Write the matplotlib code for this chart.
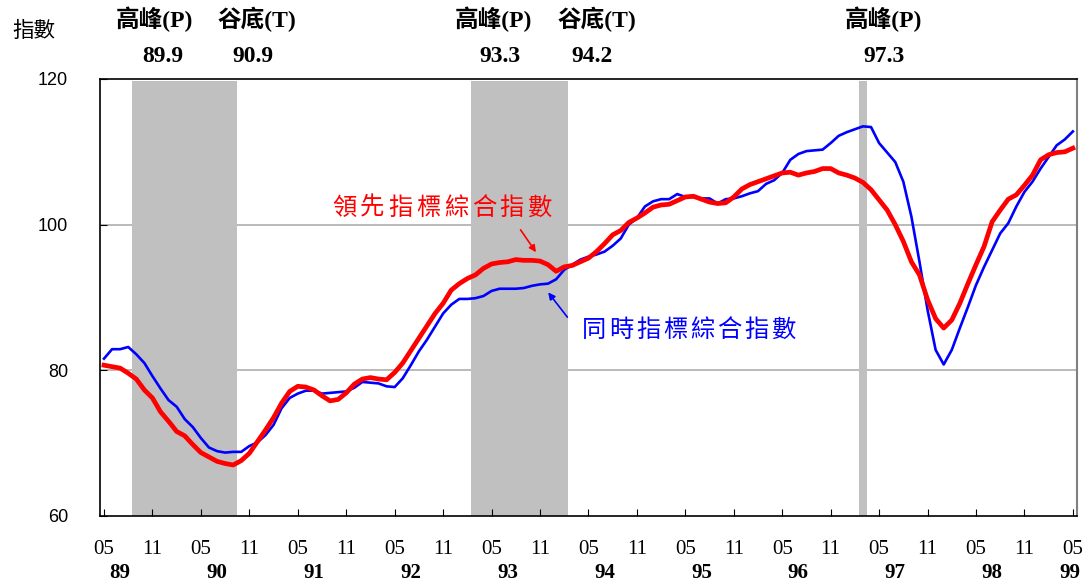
import matplotlib
matplotlib.use("Agg")
import matplotlib.pyplot as plt
import matplotlib.transforms as mtransforms

# 89/05 ~ 99/05, monthly
leading = [80.7, 80.5, 80.3, 79.6, 78.8, 77.3, 76.2, 74.3, 73.0, 71.6, 71.0, 69.8,
           68.7, 68.1, 67.5, 67.2, 67.0, 67.6, 68.6, 70.2, 71.8, 73.5, 75.5, 77.1,
           77.8, 77.7, 77.3, 76.5, 75.8, 76.0, 76.9, 78.1, 78.8, 79.0, 78.8, 78.7,
           79.7, 81.0, 82.7, 84.4, 86.1, 87.8, 89.2, 91.0, 91.9, 92.6, 93.1, 94.0,
           94.6, 94.8, 94.9, 95.2, 95.1, 95.1, 95.0, 94.5, 93.6, 94.2, 94.4, 94.9,
           95.4, 96.3, 97.4, 98.6, 99.2, 100.3, 100.9, 101.6, 102.4, 102.7, 102.8, 103.3,
           103.8, 103.9, 103.5, 103.1, 102.9, 103.0, 103.8, 104.9, 105.5, 105.9, 106.3, 106.7,
           107.1, 107.2, 106.8, 107.1, 107.3, 107.7, 107.7, 107.1, 106.8, 106.4, 105.8, 104.8,
           103.4, 102.0, 100.0, 97.7, 94.9, 93.1, 89.7, 87.1, 85.8, 86.9, 89.2, 91.9,
           94.5, 97.0, 100.4, 102.0, 103.5, 104.1, 105.4, 106.8, 108.9, 109.6, 109.9, 110.0,
           110.5]
coincident = [81.6, 82.9, 82.9, 83.2, 82.2, 81.0, 79.2, 77.5, 75.9, 75.0, 73.3, 72.2,
              70.7, 69.4, 68.9, 68.7, 68.8, 68.8, 69.6, 70.1, 71.1, 72.5, 74.8, 76.2,
              76.8, 77.2, 77.2, 76.8, 76.9, 77.0, 77.1, 77.6, 78.4, 78.3, 78.2, 77.8,
              77.7, 78.9, 80.7, 82.6, 84.2, 86.0, 87.8, 89.0, 89.8, 89.8, 89.9, 90.2,
              90.9, 91.2, 91.2, 91.2, 91.3, 91.6, 91.8, 91.9, 92.5, 93.8, 94.5, 95.2,
              95.6, 95.9, 96.3, 97.1, 98.1, 100.0, 100.9, 102.5, 103.2, 103.5, 103.5, 104.2,
              103.8, 103.8, 103.6, 103.6, 102.9, 103.5, 103.6, 103.9, 104.3, 104.6, 105.6, 106.1,
              107.1, 108.9, 109.7, 110.1, 110.2, 110.3, 111.2, 112.2, 112.7, 113.1, 113.5, 113.4,
              111.2, 109.9, 108.6, 105.9, 101.1, 94.9, 88.3, 82.8, 80.8, 82.8, 85.8, 88.7,
              91.7, 94.2, 96.5, 98.8, 100.2, 102.5, 104.5, 105.9, 107.7, 109.3, 110.9, 111.7,
              112.8]
months = list(range(len(leading)))
month_labels = ["05", "11"] * 10 + ["05"]
years = ["89", "90", "91", "92", "93", "94", "95", "96", "97", "98", "99"]

# recession periods (month index of peak, trough)
recessions = [(4, 16), (46, 57), (94, 94)]
turn_labels = [("高峰(P)", "89.9", 6.3, 7.3), ("谷底(T)", "90.9", 19.0, 18.5),
               ("高峰(P)", "93.3", 48.2, 49.0), ("谷底(T)", "94.2", 61.0, 60.5),
               ("高峰(P)", "97.3", 96.5, 96.6)]

cjk = "Noto Sans CJK TC"
serif_cjk = ["Liberation Serif", cjk]

fig = plt.figure(figsize=(10.9, 5.83), dpi=100)
ax = fig.add_axes([0.0917, 0.115, 0.8963, 0.7495])

for a, b in recessions:
    ax.axvspan(a - 0.5, b + 0.5, ymax=0.995, color="#C0C0C0", lw=0, zorder=1)
for g in [80, 100]:
    ax.axhline(g, color="#B4B4B4", lw=1.3, zorder=0.5)

ax.plot(months, coincident, color="#0000FF", lw=1.9, zorder=3)
ax.plot(months, leading, color="#FF0000", lw=3.4, zorder=4)

ax.set_xlim(-0.5, 120.5)
ax.set_ylim(60, 120)
ax.set_yticks([60, 80, 100, 120])
ax.set_yticklabels(["60", "80", "100", "120"], family="Liberation Sans", fontsize=13)
ax.set_xticks(months[::6])
ax.set_xticklabels(month_labels, family="Liberation Serif", fontsize=15)
ax.tick_params(axis="x", direction="in", length=5, pad=17)
ax.tick_params(axis="y", direction="in", length=5, pad=23)
for s in ["left", "bottom", "top"]:
    ax.spines[s].set_color("black")
    ax.spines[s].set_linewidth(1.2)
ax.spines["right"].set_color("#808080")
ax.spines["right"].set_linewidth(1.5)

trans = mtransforms.blended_transform_factory(ax.transData, fig.transFigure)
for k, y in enumerate(years):
    ax.text(min(2 + 12 * k, 119.6), 0.017, y, transform=trans, ha="center", va="center",
            family="Liberation Serif", weight="bold", fontsize=15)

for name, date, xn, xd in turn_labels:
    ax.text(xn, 0.967, name, transform=trans, ha="center", va="center",
            family=serif_cjk, weight="bold", fontsize=17)
    ax.text(xd, 0.903, date, transform=trans, ha="center", va="center",
            family="Liberation Serif", weight="bold", fontsize=17)

fig.text(0.031, 0.947, "指數", family=cjk, fontsize=15.5, ha="center", va="center")

# series names, one character at a time to match the wide spacing
for k, ch in enumerate("領先指標綜合指數"):
    ax.text(29.8 + 3.45 * k, 102.3, ch, color="#FF0000", family=cjk, fontsize=17.5,
            ha="center", va="center")
for k, ch in enumerate("同時指標綜合指數"):
    ax.text(60.7 + 3.35 * k, 85.5, ch, color="#0000FF", family=cjk, fontsize=17.5,
            ha="center", va="center")

ax.annotate("", xy=(53.7, 95.9), xytext=(51.4, 99.6),
            arrowprops=dict(arrowstyle="-|>", color="#FF0000", lw=1.2, mutation_scale=10))
ax.annotate("", xy=(54.8, 91.0), xytext=(57.6, 87.0),
            arrowprops=dict(arrowstyle="-|>", color="#0000FF", lw=1.2, mutation_scale=10))

plt.savefig("out.png", dpi=100)
